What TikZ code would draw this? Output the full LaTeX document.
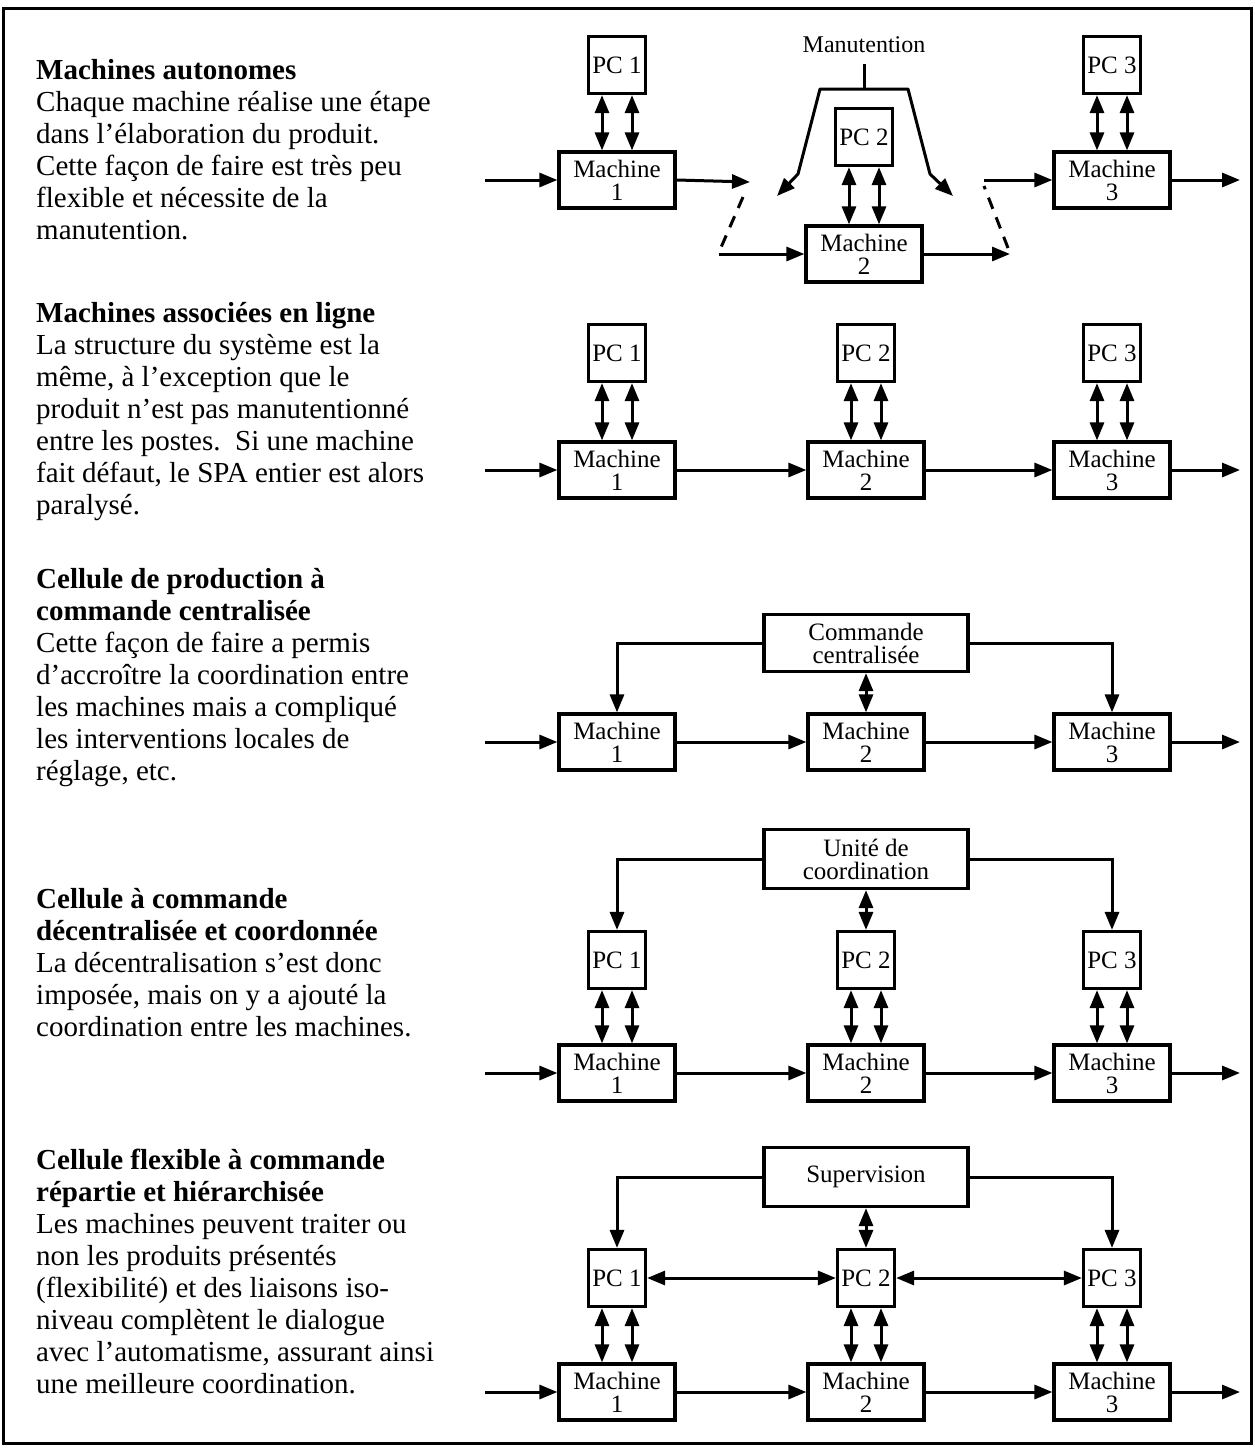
\documentclass[tikz,border=0pt]{standalone}
\usepackage{fontspec}
\setmainfont{Liberation Serif}
\usetikzlibrary{arrows.meta}

\begin{document}
\begin{tikzpicture}[x=1pt,y=-1pt,
  every node/.style={inner sep=0pt},
  >={Triangle[length=18pt,width=14pt]},
  box/.style={draw, line width=3.2pt, font=\fontsize{25}{23}\selectfont, align=center},
  machine/.style={box, minimum width=116pt, minimum height=56pt},
  pcbox/.style={box, minimum width=57pt, minimum height=57pt},
  ctrlbox/.style={box, minimum width=204pt, minimum height=57pt},
  flow/.style={line width=3pt, ->},
  bidir/.style={line width=3pt, <->},
  link/.style={line width=3pt},
  handling/.style={line width=3pt, dash pattern=on 12pt off 9pt},
  desc/.style={anchor=north west, align=left, font=\fontsize{29}{32}\selectfont},
]
\useasboundingbox (0,0) rectangle (1255,1449);
\draw[line width=3pt] (3,8) rectangle (1251,1443);

% ---------- descriptions ----------
\node[desc] (t1) at (36,59) {\textbf{Machines autonomes}\\
Chaque machine réalise une étape\\
dans l’élaboration du produit.\\
Cette façon de faire est très peu\\
flexible et nécessite de la\\
manutention.};

\node[desc] (t2) at (36,302) {\textbf{Machines associées en ligne}\\
La structure du système est la\\
même, à l’exception que le\\
produit n’est pas manutentionné\\
entre les postes.\ \ Si une machine\\
fait défaut, le SPA entier est alors\\
paralysé.};

\node[desc] (t3) at (36,568) {\textbf{Cellule de production à}\\
\textbf{commande centralisée}\\
Cette façon de faire a permis\\
d’accroître la coordination entre\\
les machines mais a compliqué\\
les interventions locales de\\
réglage, etc.};

\node[desc] (t4) at (36,888) {\textbf{Cellule à commande}\\
\textbf{décentralisée et coordonnée}\\
La décentralisation s’est donc\\
imposée, mais on y a ajouté la\\
coordination entre les machines.};

\node[desc] (t5) at (36,1149) {\textbf{Cellule flexible à commande}\\
\textbf{répartie et hiérarchisée}\\
Les machines peuvent traiter ou\\
non les produits présentés\\
(flexibilité) et des liaisons iso-\\
niveau complètent le dialogue\\
avec l’automatisme, assurant ainsi\\
une meilleure coordination.};

% ---------- 1: autonomous machines with handling ----------
\node[pcbox] (a-pc1) at (617,65) {PC 1};
\node[machine] (a-m1) at (617,180) {Machine\\1};
\node[pcbox] (a-pc2) at (864,137) {PC 2};
\node[machine] (a-m2) at (864,254) {Machine\\2};
\node[pcbox] (a-pc3) at (1112,65) {PC 3};
\node[machine] (a-m3) at (1112,180) {Machine\\3};
\node[font=\fontsize{24}{24}\selectfont] (manu) at (864,45) {Manutention};

\foreach \i in {1,2,3} {
  \draw[bidir] ([xshift=-15pt]a-pc\i.south) -- ([xshift=-15pt]a-m\i.north);
  \draw[bidir] ([xshift=15pt]a-pc\i.south) -- ([xshift=15pt]a-m\i.north);
}

\coordinate (a-in) at (485,180);
\coordinate (a-h1) at (750,182);
\coordinate (a-d1) at (743,197);
\coordinate (a-d2) at (719,252);
\coordinate (a-h2) at (719,254);
\coordinate (a-h3) at (1010,254);
\coordinate (a-d3) at (1008,248);
\coordinate (a-d4) at (984,186);
\coordinate (a-h4) at (984,180);
\coordinate (a-out) at (1240,180);

\draw[flow] (a-in) -- (a-m1.west);
\draw[flow] (a-m1.east) -- (a-h1);
\draw[handling] (a-d1) -- (a-d2);
\draw[flow] (a-h2) -- (a-m2.west);
\draw[flow] (a-m2.east) -- (a-h3);
\draw[handling] (a-d3) -- (a-d4);
\draw[flow] (a-h4) -- (a-m3.west);
\draw[flow] (a-m3.east) -- (a-out);

% handling gantry
\coordinate (g-top) at (864,89);
\coordinate (g-tl) at (820,89);
\coordinate (g-tr) at (908,89);
\coordinate (g-lk) at (798,174);
\coordinate (g-lt) at (777,196);
\coordinate (g-rk) at (930,174);
\coordinate (g-rt) at (953,196);
\draw[link] ([yshift=-11pt]manu.south) -- (g-top);
\draw[bidir, line join=round] (g-lt) -- (g-lk) -- (g-tl) -- (g-tr) -- (g-rk) -- (g-rt);

% ---------- 2: machines in line ----------
\node[pcbox] (b-pc1) at (617,353) {PC 1};
\node[pcbox] (b-pc2) at (866,353) {PC 2};
\node[pcbox] (b-pc3) at (1112,353) {PC 3};
\node[machine] (b-m1) at (617,470) {Machine\\1};
\node[machine] (b-m2) at (866,470) {Machine\\2};
\node[machine] (b-m3) at (1112,470) {Machine\\3};
\foreach \i in {1,2,3} {
  \draw[bidir] ([xshift=-15pt]b-pc\i.south) -- ([xshift=-15pt]b-m\i.north);
  \draw[bidir] ([xshift=15pt]b-pc\i.south) -- ([xshift=15pt]b-m\i.north);
}
\coordinate (b-in) at (485,470);
\coordinate (b-out) at (1240,470);
\draw[flow] (b-in) -- (b-m1.west);
\draw[flow] (b-m1.east) -- (b-m2.west);
\draw[flow] (b-m2.east) -- (b-m3.west);
\draw[flow] (b-m3.east) -- (b-out);

% ---------- 3: centralised control ----------
\node[ctrlbox] (c-ctrl) at (866,643) {Commande\\centralisée};
\node[machine] (c-m1) at (617,742) {Machine\\1};
\node[machine] (c-m2) at (866,742) {Machine\\2};
\node[machine] (c-m3) at (1112,742) {Machine\\3};
\draw[flow] (c-ctrl.west) -| (c-m1.north);
\draw[flow] (c-ctrl.east) -| (c-m3.north);
\draw[bidir] (c-ctrl.south) -- (c-m2.north);
\coordinate (c-in) at (485,742);
\coordinate (c-out) at (1240,742);
\draw[flow] (c-in) -- (c-m1.west);
\draw[flow] (c-m1.east) -- (c-m2.west);
\draw[flow] (c-m2.east) -- (c-m3.west);
\draw[flow] (c-m3.east) -- (c-out);

% ---------- 4: decentralised, coordinated ----------
\node[ctrlbox, minimum height=59pt] (d-ctrl) at (866,859) {Unité de\\coordination};
\node[pcbox] (d-pc1) at (617,960) {PC 1};
\node[pcbox] (d-pc2) at (866,960) {PC 2};
\node[pcbox] (d-pc3) at (1112,960) {PC 3};
\node[machine] (d-m1) at (617,1073) {Machine\\1};
\node[machine] (d-m2) at (866,1073) {Machine\\2};
\node[machine] (d-m3) at (1112,1073) {Machine\\3};
\draw[flow] (d-ctrl.west) -| (d-pc1.north);
\draw[flow] (d-ctrl.east) -| (d-pc3.north);
\draw[bidir] (d-ctrl.south) -- (d-pc2.north);
\foreach \i in {1,2,3} {
  \draw[bidir] ([xshift=-15pt]d-pc\i.south) -- ([xshift=-15pt]d-m\i.north);
  \draw[bidir] ([xshift=15pt]d-pc\i.south) -- ([xshift=15pt]d-m\i.north);
}
\coordinate (d-in) at (485,1073);
\coordinate (d-out) at (1240,1073);
\draw[flow] (d-in) -- (d-m1.west);
\draw[flow] (d-m1.east) -- (d-m2.west);
\draw[flow] (d-m2.east) -- (d-m3.west);
\draw[flow] (d-m3.east) -- (d-out);

% ---------- 5: flexible, distributed and hierarchical ----------
\node[ctrlbox, minimum height=59pt] (e-ctrl) at (866,1177) {Supervision};
\node[pcbox] (e-pc1) at (617,1278) {PC 1};
\node[pcbox] (e-pc2) at (866,1278) {PC 2};
\node[pcbox] (e-pc3) at (1112,1278) {PC 3};
\node[machine] (e-m1) at (617,1392) {Machine\\1};
\node[machine] (e-m2) at (866,1392) {Machine\\2};
\node[machine] (e-m3) at (1112,1392) {Machine\\3};
\draw[flow] (e-ctrl.west) -| (e-pc1.north);
\draw[flow] (e-ctrl.east) -| (e-pc3.north);
\draw[bidir] (e-ctrl.south) -- (e-pc2.north);
\draw[bidir] (e-pc1.east) -- (e-pc2.west);
\draw[bidir] (e-pc2.east) -- (e-pc3.west);
\foreach \i in {1,2,3} {
  \draw[bidir] ([xshift=-15pt]e-pc\i.south) -- ([xshift=-15pt]e-m\i.north);
  \draw[bidir] ([xshift=15pt]e-pc\i.south) -- ([xshift=15pt]e-m\i.north);
}
\coordinate (e-in) at (485,1392);
\coordinate (e-out) at (1240,1392);
\draw[flow] (e-in) -- (e-m1.west);
\draw[flow] (e-m1.east) -- (e-m2.west);
\draw[flow] (e-m2.east) -- (e-m3.west);
\draw[flow] (e-m3.east) -- (e-out);
\end{tikzpicture}
\end{document}
